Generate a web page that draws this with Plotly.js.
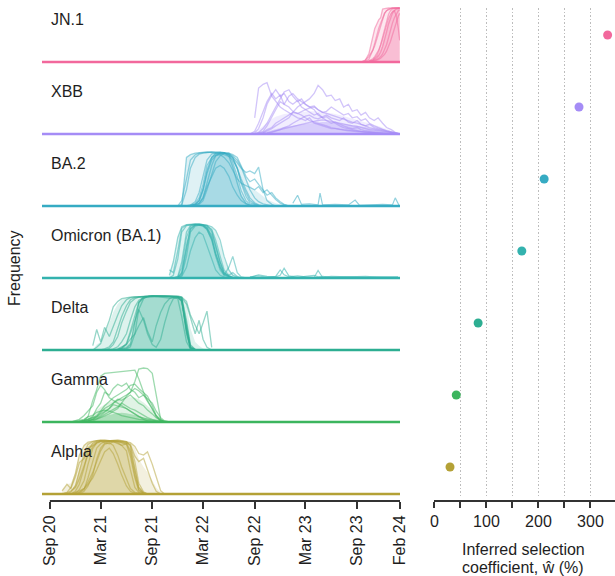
<!DOCTYPE html>
<html><head><meta charset="utf-8">
<script src="https://cdn.plot.ly/plotly-3.0.1.min.js"></script>
<style>html,body{margin:0;padding:0;background:#fff}#chart{width:615px;height:576px}</style>
</head><body><div id="chart"></div>
<script>
// ---------------- DATA ----------------
const variants = ['JN.1','XBB','BA.2','Omicron (BA.1)','Delta','Gamma','Alpha'];
const colors = ['#F2689C','#A58CF6','#36ABC3','#33B2AE','#2DAE92','#3CB55E','#B4A136'];
const selection = [333, 278, 211, 168, 84, 42, 30];
const fullSpan = ['2020-08-04','2024-02-01'];
const tickDates = ['2020-09-01','2021-03-01','2021-09-01','2022-03-01','2022-09-01','2023-03-01','2023-09-01','2024-02-01'];
const tickLabels = ['Sep 20','Mar 21','Sep 21','Mar 22','Sep 22','Mar 23','Sep 23','Feb 24'];
const selTicks = [0,50,100,150,200,250,300];
const selTickLabels = ['0','','100','','200','','300'];

// JN.1
const jn1Dates = ['2023-09-15','2023-09-29','2023-10-13','2023-10-27','2023-11-03','2023-11-10','2023-11-17','2023-11-24','2023-12-01','2023-12-08','2023-12-15','2023-12-22','2023-12-29','2024-01-05','2024-01-12','2024-01-19','2024-01-26','2024-01-31'];
const jn1Lines = [
 [0,0.02,0.15,0.5,0.62,0.7,0.78,0.82,0.98,0.99,1,1,1,1,1,1,1,1],
 [0,0.01,0.05,0.2,0.3,0.42,0.55,0.68,0.8,0.9,0.95,0.98,0.99,1,1,1,1,1],
 [0,0,0.02,0.06,0.1,0.15,0.22,0.32,0.45,0.6,0.75,0.88,0.95,0.98,0.99,1,1,1],
 [0,0,0.01,0.03,0.05,0.08,0.12,0.18,0.28,0.4,0.55,0.7,0.82,0.9,0.95,0.98,0.99,1],
 [0,0,0,0.02,0.03,0.05,0.07,0.1,0.15,0.22,0.32,0.45,0.6,0.72,0.82,0.9,0.95,0.97],
 [0,0,0.01,0.04,0.08,0.12,0.2,0.3,0.42,0.55,0.68,0.8,0.88,0.93,0.95,0.85,0.62,0.4],
 [0,0,0,0.01,0.02,0.03,0.05,0.07,0.1,0.14,0.2,0.28,0.38,0.5,0.62,0.75,0.85,0.9],
 [0,0.03,0.1,0.22,0.35,0.5,0.62,0.72,0.82,0.9,0.95,0.97,0.99,1,1,1,1,1]
];
const jn1Core = [0,0,0.01,0.04,0.07,0.11,0.17,0.25,0.37,0.5,0.65,0.8,0.9,0.96,0.98,0.99,1,1];
const jn1Outer = [0,0.03,0.15,0.5,0.62,0.7,0.78,0.82,0.98,0.99,1,1,1,1,1,1,1,1];

// XBB
const xbbDates = ['2022-08-15','2022-09-01','2022-09-15','2022-10-01','2022-10-15','2022-11-01','2022-11-15','2022-12-01','2022-12-15','2023-01-01','2023-01-15','2023-02-01','2023-02-15','2023-03-01','2023-03-15','2023-04-01','2023-04-15','2023-05-01','2023-05-15','2023-06-01','2023-06-15','2023-07-01','2023-07-15','2023-08-01','2023-08-15','2023-09-01','2023-09-15','2023-10-01','2023-10-15','2023-11-01','2023-11-15','2023-12-01','2023-12-15','2024-01-01','2024-01-15','2024-02-01'];
const xbbLines = [
 [null,0.3,0.85,0.92,0.95,0.7,0.6,0.5,0.45,0.4,0.35,0.3,0.28,0.25,0.3,0.2,0.18,0.15,0.12,0.1,0.1,0.08,0.07,0.06,0.05,0.05,0.04,0.03,0.03,0.02,0.02,0.01,0.01,0.01,0,0],
 [0,0.02,0.1,0.3,0.55,0.72,0.82,0.7,0.75,0.6,0.55,0.62,0.5,0.45,0.4,0.35,0.38,0.3,0.25,0.2,0.22,0.18,0.15,0.12,0.1,0.12,0.08,0.06,0.05,0.04,0.03,0.02,0.01,0.01,0,0],
 [0,0,0.03,0.1,0.2,0.35,0.5,0.65,0.78,0.82,0.7,0.6,0.65,0.55,0.5,0.45,0.35,0.3,0.32,0.25,0.2,0.15,0.12,0.1,0.08,0.06,0.05,0.04,0.03,0.02,0.02,0.01,0,0,0,0],
 [0,0,0,0.02,0.05,0.1,0.15,0.2,0.25,0.3,0.4,0.5,0.55,0.6,0.65,0.75,0.9,0.82,0.7,0.72,0.62,0.65,0.5,0.55,0.42,0.45,0.35,0.4,0.3,0.25,0.3,0.2,0.12,0.08,0.03,0],
 [0,0,0.02,0.05,0.15,0.3,0.45,0.6,0.55,0.7,0.75,0.65,0.6,0.55,0.5,0.52,0.45,0.4,0.42,0.5,0.45,0.4,0.35,0.38,0.3,0.32,0.25,0.28,0.2,0.15,0.12,0.1,0.06,0.04,0.02,0],
 [0,0,0.01,0.03,0.08,0.12,0.2,0.25,0.3,0.35,0.4,0.38,0.42,0.45,0.48,0.5,0.45,0.4,0.38,0.35,0.32,0.3,0.28,0.25,0.22,0.2,0.18,0.15,0.12,0.1,0.08,0.06,0.04,0.02,0.01,0],
 [0,0,0,0.01,0.02,0.04,0.06,0.08,0.1,0.12,0.14,0.16,0.18,0.2,0.22,0.24,0.25,0.26,0.25,0.24,0.22,0.2,0.18,0.17,0.15,0.14,0.12,0.1,0.08,0.07,0.06,0.05,0.03,0.02,0.01,0],
 [0,0,0,0,0.01,0.03,0.05,0.08,0.12,0.15,0.2,0.25,0.3,0.33,0.35,0.3,0.28,0.32,0.35,0.3,0.28,0.25,0.3,0.22,0.2,0.25,0.18,0.15,0.18,0.12,0.1,0.08,0.05,0.03,0.02,0],
 [0,0.05,0.2,0.4,0.6,0.75,0.65,0.72,0.55,0.5,0.42,0.38,0.35,0.3,0.25,0.22,0.2,0.18,0.15,0.12,0.1,0.09,0.08,0.07,0.06,0.05,0.04,0.03,0.02,0.02,0.01,0.01,0,0,0,0]
];
const xbbCore = [0,0,0.01,0.03,0.05,0.07,0.09,0.11,0.13,0.14,0.16,0.17,0.18,0.19,0.2,0.21,0.21,0.22,0.22,0.22,0.21,0.2,0.19,0.18,0.17,0.16,0.14,0.13,0.11,0.1,0.08,0.07,0.05,0.03,0.02,0];
const xbbOuter = [0,0.02,0.08,0.15,0.22,0.28,0.32,0.35,0.37,0.38,0.4,0.4,0.41,0.42,0.42,0.42,0.42,0.41,0.4,0.39,0.37,0.35,0.33,0.31,0.29,0.27,0.25,0.22,0.2,0.17,0.15,0.12,0.09,0.06,0.03,0];

// BA.2
const ba2Dates = ['2021-12-01','2021-12-15','2022-01-01','2022-01-15','2022-02-01','2022-02-15','2022-03-01','2022-03-15','2022-04-01','2022-04-15','2022-05-01','2022-05-15','2022-06-01','2022-06-15','2022-07-01','2022-07-15','2022-08-01','2022-08-15','2022-09-01','2022-09-15','2022-10-01','2022-10-15','2022-11-01','2022-11-15','2022-12-01','2022-12-15','2023-01-01'];
const ba2Lines = [
 [0,0,0.9,0.95,0.98,0.99,1,1,0.99,0.98,0.97,0.95,0.92,0.85,0.7,0.45,0.25,0.1,0.04,0.01,0,0,0,0,0,0,0],
 [0,0.02,0.3,0.7,0.9,0.96,0.98,0.99,1,0.99,0.99,0.98,0.95,0.88,0.7,0.5,0.3,0.15,0.06,0.02,0,0,0,0,0,0,0],
 [0,0,0,0.02,0.08,0.25,0.55,0.85,0.96,0.99,1,0.99,0.95,0.8,0.55,0.28,0.1,0.03,0.01,0,0,0,0,0,0,0,0],
 [0,0,0,0.01,0.03,0.1,0.3,0.65,0.9,0.98,0.99,0.99,0.92,0.72,0.42,0.18,0.05,0.01,0,0,0,0,0,0,0,0,0],
 [0,0,0,0,0.02,0.05,0.15,0.4,0.75,0.93,0.98,0.99,0.98,0.9,0.7,0.42,0.18,0.06,0.02,0,0,0,0,0,0,0,0],
 [0,0,0,0.01,0.05,0.15,0.4,0.75,0.9,0.95,0.97,0.98,0.95,0.9,0.8,0.7,0.62,0.65,0.6,0.72,0.3,0.1,0.03,0,0,0,0],
 [0,0,0,0,0.03,0.1,0.3,0.6,0.85,0.93,0.95,0.9,0.8,0.65,0.5,0.42,0.38,0.35,0.3,0.36,0.25,0.3,0.2,0.12,0.05,0.02,0],
 [0,0,0,0,0.01,0.05,0.15,0.35,0.55,0.7,0.75,0.7,0.55,0.35,0.2,0.1,0.04,0.01,0,0,0,0,0,0,0,0,0],
 [0,0.1,0.5,0.85,0.95,0.98,0.99,1,1,1,0.99,0.98,0.97,0.93,0.85,0.72,0.5,0.3,0.15,0.08,0.04,0.02,0,0,0,0,0],
 [0,0,0,0,0,0.03,0.1,0.3,0.6,0.82,0.93,0.97,0.98,0.95,0.9,0.75,0.55,0.45,0.5,0.4,0.3,0.2,0.25,0.15,0.08,0.03,0]
];
const ba2Core = [0,0,0,0.01,0.04,0.12,0.35,0.7,0.92,0.98,0.99,0.99,0.93,0.78,0.5,0.22,0.07,0.02,0,0,0,0,0,0,0,0,0];
const ba2Outer = [0,0.05,0.9,0.95,0.98,0.99,1,1,1,1,1,0.99,0.97,0.93,0.85,0.7,0.5,0.38,0.3,0.25,0.18,0.12,0.08,0.05,0.03,0.01,0];
const ba2TailDates = ['2023-01-15','2023-02-01','2023-02-15','2023-03-15','2023-04-15','2023-04-22','2023-05-01','2023-06-15','2023-08-01','2023-08-25','2023-09-10','2023-10-15','2023-12-01','2024-01-05','2024-01-15','2024-01-28'];
const ba2Tail = [[0.05,0.2,0.03,0.04,0.02,0.24,0.02,0.03,0.02,0.11,0.01,0.02,0.03,0.02,0.15,0.02]];

// Omicron (BA.1)
const omiDates = ['2021-11-01','2021-11-15','2021-12-01','2021-12-15','2022-01-01','2022-01-15','2022-02-01','2022-02-15','2022-03-01','2022-03-15','2022-04-01','2022-04-15','2022-05-01','2022-05-15','2022-06-01','2022-06-15','2022-07-01','2022-07-15','2022-08-01'];
const omiLines = [
 [0.05,0.3,0.75,0.95,0.99,1,1,0.99,0.98,0.95,0.85,0.6,0.3,0.1,0.03,0.01,0,0,0],
 [0,0.05,0.35,0.85,0.97,0.99,1,1,0.99,0.97,0.9,0.7,0.4,0.15,0.05,0.01,0,0,0],
 [0,0,0.02,0.2,0.75,0.95,0.99,1,0.99,0.97,0.88,0.6,0.3,0.1,0.03,0.01,0,0,0],
 [0,0,0.01,0.08,0.55,0.9,0.98,0.99,0.98,0.93,0.75,0.45,0.2,0.07,0.02,0,0,0,0],
 [0,0,0.01,0.1,0.6,0.92,0.98,0.99,0.99,0.98,0.95,0.88,0.7,0.4,0.15,0.05,0.01,0,0],
 [0,0,0,0.05,0.4,0.85,0.96,0.98,0.97,0.9,0.7,0.4,0.15,0.05,0.2,0.4,0.1,0.02,0],
 [0,0,0,0.03,0.2,0.5,0.75,0.85,0.8,0.6,0.35,0.15,0.05,0.02,0,0,0,0,0],
 [0.15,0.1,0.5,0.92,0.98,0.99,0.99,0.98,0.96,0.9,0.72,0.45,0.2,0.06,0.02,0,0,0,0],
 [0,0,0.03,0.3,0.85,0.97,0.99,0.99,0.97,0.92,0.8,0.55,0.25,0.08,0.05,0.1,0.03,0,0]
];
const omiCore = [0,0,0.01,0.15,0.65,0.93,0.98,0.99,0.98,0.94,0.8,0.5,0.22,0.07,0.02,0,0,0,0];
const omiOuter = [0.05,0.3,0.75,0.95,0.99,1,1,1,0.99,0.98,0.95,0.85,0.65,0.35,0.15,0.08,0.03,0.01,0];
const omiTailDates = ['2022-08-15','2022-09-15','2022-10-15','2022-11-15','2022-12-01','2022-12-15','2023-01-01','2023-02-01','2023-03-01','2023-04-01','2023-04-15','2023-05-01','2023-06-01','2023-08-01','2023-10-01','2023-12-01','2024-01-25'];
const omiTail = [
 [0.02,0.04,0.01,0.03,0.15,0.06,0.02,0.04,0.02,0.01,0.14,0.01,0.03,0.02,0.01,0.02,0.01],
 [0.01,0.06,0.03,0.02,0.05,0.18,0.04,0.01,0.03,0.05,0.02,0.03,0.01,0.02,0.03,0.01,0.02]
];

// Delta
const deltaDates = ['2021-02-01','2021-02-15','2021-03-01','2021-03-15','2021-04-01','2021-04-15','2021-05-01','2021-05-15','2021-06-01','2021-06-15','2021-07-01','2021-07-15','2021-08-01','2021-08-15','2021-09-01','2021-09-15','2021-10-01','2021-10-15','2021-11-01','2021-11-15','2021-12-01','2021-12-15','2022-01-01','2022-01-15','2022-02-01','2022-02-15','2022-03-01','2022-03-15','2022-04-01'];
const deltaLines = [
 [0,0.05,0.12,0.3,0.55,0.8,0.9,0.95,0.97,0.98,0.99,0.99,1,1,1,1,1,1,1,0.99,0.98,0.9,0.35,0.05,0.01,0,0,0,0],
 [0.08,0.38,0.15,0.42,0.25,0.45,0.65,0.82,0.93,0.97,0.98,0.99,0.99,1,1,0.99,0.99,0.98,0.96,0.97,0.95,0.62,0.15,0.02,0,0,0,0,0],
 [0,0,0,0,0.03,0.1,0.25,0.5,0.72,0.88,0.95,0.98,0.99,1,1,1,1,1,1,1,0.99,0.97,0.5,0.08,0.01,0,0,0,0],
 [0,0,0,0,0,0,0,0.02,0.04,0.1,0.5,0.88,0.99,1,1,1,1,1,1,1,0.99,0.95,0.3,0.03,0,0,0,0,0],
 [0,0,0,0,0,0,0,0,0.02,0.06,0.3,0.75,0.95,0.99,1,1,1,1,1,1,1,0.98,0.55,0.1,0.01,0,0,0,0],
 [0,0,0,0,0,0,0.02,0.05,0.1,0.2,0.3,0.45,0.6,0.35,0.15,0.45,0.7,0.85,0.95,0.98,0.97,0.9,0.4,0.05,0,0,0,0,0],
 [0,0,0,0,0,0,0.01,0.04,0.12,0.35,0.65,0.88,0.96,0.99,1,1,1,0.99,1,0.99,0.99,0.98,0.9,0.65,0.45,0.3,0.5,0.72,0.05],
 [0,0,0,0.02,0.06,0.15,0.38,0.62,0.82,0.93,0.97,0.98,0.99,0.99,1,1,0.99,1,1,0.99,0.99,0.93,0.4,0.05,0,0,0,0,0],
 [0,0,0,0,0,0.02,0.06,0.15,0.3,0.55,0.8,0.92,0.97,0.98,0.99,1,1,1,1,0.99,0.98,0.97,0.85,0.6,0.3,0.55,0.2,0.05,0],
 [0,0,0,0,0,0,0,0.03,0.1,0.3,0.55,0.75,0.55,0.3,0.1,0.05,0.2,0.5,0.8,0.95,0.97,0.92,0.35,0.03,0,0,0,0,0]
];
const deltaCore = [0,0,0,0,0,0.01,0.02,0.04,0.07,0.15,0.55,0.9,0.99,1,1,1,1,1,1,1,0.99,0.96,0.45,0.06,0.01,0,0,0,0];
const deltaOuter = [0,0.1,0.15,0.3,0.5,0.7,0.85,0.93,0.97,0.98,0.99,0.99,1,1,1,1,1,1,1,1,0.99,0.98,0.85,0.4,0.15,0.08,0.03,0.01,0];

// Gamma
const gammaDates = ['2020-11-15','2020-12-01','2020-12-15','2021-01-01','2021-01-15','2021-02-01','2021-02-15','2021-03-01','2021-03-15','2021-04-01','2021-04-15','2021-05-01','2021-05-15','2021-06-01','2021-06-15','2021-07-01','2021-07-15','2021-08-01','2021-08-15','2021-09-01','2021-09-15','2021-10-01','2021-10-15','2021-11-01'];
const gammaLines = [
 [0,0,0,0,0.02,0.05,0.1,0.18,0.25,0.3,0.35,0.4,0.45,0.5,0.55,0.75,0.98,1,0.99,0.9,0.5,0.05,0,0],
 [0,0,0.01,0.03,0.1,0.4,0.6,0.85,0.9,0.91,0.92,0.93,0.94,0.95,0.95,0.96,0.8,0.55,0.4,0.25,0.1,0.02,0,0],
 [0,0,0,0.03,0.05,0.1,0.25,0.35,0.55,0.5,0.62,0.7,0.66,0.72,0.6,0.55,0.45,0.5,0.38,0.25,0.12,0.05,0,0],
 [0,0.02,0.05,0.12,0.2,0.3,0.55,0.68,0.6,0.45,0.4,0.35,0.3,0.25,0.2,0.15,0.1,0.05,0.02,0,0,0,0,0],
 [0,0,0,0.02,0.04,0.08,0.12,0.2,0.3,0.38,0.45,0.5,0.55,0.6,0.68,0.7,0.62,0.55,0.48,0.3,0.12,0.02,0,0],
 [0,0,0.01,0.03,0.05,0.08,0.1,0.15,0.2,0.25,0.32,0.3,0.28,0.25,0.2,0.15,0.1,0.07,0.05,0.03,0.02,0.01,0,0],
 [0,0,0,0,0.02,0.04,0.06,0.1,0.14,0.18,0.22,0.28,0.35,0.3,0.25,0.22,0.18,0.12,0.08,0.05,0.03,0.01,0,0],
 [0,0,0,0.01,0.02,0.05,0.08,0.12,0.18,0.25,0.35,0.42,0.4,0.45,0.5,0.42,0.35,0.3,0.22,0.15,0.08,0.03,0.01,0],
 [0,0,0,0,0,0.02,0.05,0.08,0.12,0.15,0.2,0.25,0.35,0.48,0.55,0.62,0.58,0.5,0.42,0.35,0.2,0.08,0.02,0],
 [0,0.01,0.03,0.05,0.1,0.12,0.18,0.2,0.22,0.2,0.18,0.15,0.12,0.1,0.08,0.06,0.05,0.04,0.03,0.02,0.01,0,0,0]
];
const gammaCore = [0,0,0.01,0.02,0.03,0.05,0.07,0.09,0.11,0.13,0.15,0.16,0.17,0.16,0.15,0.13,0.11,0.08,0.06,0.04,0.02,0.01,0,0];
const gammaOuter = [0,0.01,0.03,0.06,0.1,0.15,0.22,0.28,0.32,0.36,0.4,0.43,0.45,0.46,0.46,0.45,0.42,0.36,0.3,0.22,0.12,0.04,0.01,0];

// Alpha
const alphaDates = ['2020-10-15','2020-11-01','2020-11-15','2020-12-01','2020-12-15','2021-01-01','2021-01-15','2021-02-01','2021-02-15','2021-03-01','2021-03-15','2021-04-01','2021-04-15','2021-05-01','2021-05-15','2021-06-01','2021-06-15','2021-07-01','2021-07-15','2021-08-01','2021-08-15','2021-09-01','2021-09-15','2021-10-01','2021-10-15'];
const alphaLines = [
 [0,0.03,0.12,0.38,0.72,0.9,0.96,0.98,0.99,0.99,0.98,0.97,0.96,0.95,0.9,0.8,0.45,0.12,0.03,0,0,0,0,0,0],
 [0,0,0.04,0.15,0.42,0.75,0.92,0.97,0.99,1,0.99,0.99,0.98,0.97,0.95,0.92,0.7,0.3,0.06,0.01,0,0,0,0,0],
 [0,0,0,0.05,0.18,0.48,0.8,0.94,0.98,0.99,1,0.99,0.99,0.98,0.97,0.95,0.82,0.45,0.12,0.02,0,0,0,0,0],
 [0,0,0,0.02,0.08,0.25,0.55,0.84,0.95,0.98,0.99,0.99,0.99,0.98,0.98,0.97,0.9,0.6,0.2,0.04,0,0,0,0,0],
 [0,0,0,0,0.03,0.1,0.22,0.4,0.6,0.8,0.92,0.95,0.9,0.72,0.5,0.28,0.1,0.03,0.01,0,0,0,0,0,0],
 [0.06,0.18,0.1,0.32,0.58,0.66,0.85,0.9,0.96,0.98,0.95,0.93,0.97,0.94,0.9,0.93,0.78,0.35,0.08,0.01,0,0,0,0,0],
 [0,0,0,0,0.02,0.08,0.3,0.6,0.85,0.93,0.97,0.98,0.99,0.99,0.98,0.97,0.95,0.88,0.75,0.72,0.78,0.55,0.3,0.06,0],
 [0,0,0,0,0,0.05,0.15,0.35,0.65,0.85,0.94,0.97,0.98,0.97,0.96,0.94,0.92,0.7,0.6,0.66,0.45,0.2,0.05,0,0],
 [0,0,0,0.02,0.05,0.1,0.18,0.3,0.45,0.62,0.78,0.85,0.75,0.55,0.35,0.15,0.05,0.01,0,0,0,0,0,0,0],
 [0,0.02,0.06,0.12,0.28,0.52,0.72,0.88,0.94,0.97,0.98,0.99,1,1,0.99,0.97,0.88,0.5,0.12,0.02,0,0,0,0,0]
];
const alphaCore = [0,0.01,0.05,0.18,0.45,0.72,0.88,0.95,0.98,0.99,0.99,0.99,0.99,0.98,0.97,0.95,0.8,0.42,0.1,0.02,0,0,0,0,0];
const alphaOuter = [0.06,0.18,0.2,0.4,0.72,0.9,0.96,0.98,0.99,1,1,1,1,1,0.99,0.97,0.95,0.85,0.65,0.5,0.4,0.25,0.12,0.03,0];

// ---------------- BUILD ----------------
const panels = [
 {dates: jn1Dates, lines: jn1Lines, core: jn1Core, outer: jn1Outer},
 {dates: xbbDates, lines: xbbLines, core: xbbCore, outer: xbbOuter},
 {dates: ba2Dates, lines: ba2Lines, core: ba2Core, outer: ba2Outer, tailDates: ba2TailDates, tail: ba2Tail},
 {dates: omiDates, lines: omiLines, core: omiCore, outer: omiOuter, tailDates: omiTailDates, tail: omiTail},
 {dates: deltaDates, lines: deltaLines, core: deltaCore, outer: deltaOuter},
 {dates: gammaDates, lines: gammaLines, core: gammaCore, outer: gammaOuter},
 {dates: alphaDates, lines: alphaLines, core: alphaCore, outer: alphaOuter}
];

function rgba(hex, a) {
  const n = parseInt(hex.slice(1), 16);
  return 'rgba(' + ((n >> 16) & 255) + ',' + ((n >> 8) & 255) + ',' + (n & 255) + ',' + a + ')';
}

const W = 615, plotBottom = 501;
const fy = py => (plotBottom - py) / plotBottom;
const fx = px => px / W;
const txt = {size: 16, color: '#1e1e1e'};

const traces = [];
const layout = {
  width: 615, height: 576,
  margin: {l: 0, r: 0, t: 0, b: 75},
  paper_bgcolor: '#ffffff', plot_bgcolor: 'rgba(0,0,0,0)',
  showlegend: false,
  font: {family: 'Liberation Sans, Arial, sans-serif', size: 16, color: '#1e1e1e'},
  xaxis: {
    domain: [fx(42), fx(400)], range: fullSpan, type: 'date',
    anchor: 'free', position: 0, showline: false, showgrid: false, zeroline: false,
    ticks: 'outside', ticklen: 7, tickwidth: 2, tickcolor: '#333333',
    tickmode: 'array', tickvals: tickDates, ticktext: tickLabels, tickangle: -90,
    tickfont: txt, fixedrange: true
  },
  xaxis2: {
    domain: [fx(434), 1], range: [-0.8, 347.2],
    anchor: 'free', position: 0, showline: true, linewidth: 2, linecolor: '#333333',
    ticks: 'outside', ticklen: 6, tickwidth: 2, tickcolor: '#333333',
    tickmode: 'array', tickvals: selTicks, ticktext: selTickLabels,
    showgrid: true, gridcolor: '#bdbdbd', griddash: '1.5px,2px', gridwidth: 1,
    zeroline: false, tickfont: txt, fixedrange: true
  },
  yaxis8: {
    domain: [fy(497), fy(8)], range: [-0.4167, 6.375], anchor: 'x2', visible: false,
    type: 'category', categoryorder: 'array', categoryarray: variants.slice().reverse(), fixedrange: true
  },
  shapes: [{
    type: 'line', xref: 'x', yref: 'paper', x0: tickDates[0], x1: tickDates[tickDates.length - 1],
    y0: 0, y1: 0, line: {color: '#333333', width: 2}
  }],
  annotations: []
};

panels.forEach((p, i) => {
  const ya = i === 0 ? 'y' : 'y' + (i + 1);
  const base = 62 + 72 * i;
  layout[i === 0 ? 'yaxis' : 'yaxis' + (i + 1)] = {
    domain: [fy(base + 2.16), fy(base - 56.16)], range: [-0.04, 1.04],
    anchor: 'x', visible: false, fixedrange: true
  };
  const c = colors[i];
  traces.push({x: p.dates, y: p.outer, xaxis: 'x', yaxis: ya, mode: 'lines', fill: 'tozeroy',
    fillcolor: rgba(c, 0.16), line: {width: 0, color: rgba(c, 0)}, hoverinfo: 'skip', showlegend: false});
  traces.push({x: p.dates, y: p.core, xaxis: 'x', yaxis: ya, mode: 'lines', fill: 'tozeroy',
    fillcolor: rgba(c, 0.32), line: {width: 0, color: rgba(c, 0)}, hoverinfo: 'skip', showlegend: false});
  p.lines.forEach(l => traces.push({x: p.dates, y: l, xaxis: 'x', yaxis: ya, mode: 'lines',
    line: {color: c, width: 1.3}, opacity: 0.5, hoverinfo: 'skip', showlegend: false}));
  if (p.tail) p.tail.forEach(l => traces.push({x: p.tailDates, y: l, xaxis: 'x', yaxis: ya, mode: 'lines',
    line: {color: c, width: 1.2}, opacity: 0.55, hoverinfo: 'skip', showlegend: false}));
  traces.push({x: fullSpan, y: [0, 0], xaxis: 'x', yaxis: ya, mode: 'lines',
    line: {color: c, width: 2.5}, hoverinfo: 'skip', showlegend: false});
  layout.annotations.push({text: variants[i], xref: 'paper', yref: 'paper', x: fx(49), y: fy(19.5 + 72 * i),
    xanchor: 'left', yanchor: 'middle', showarrow: false, font: txt});
});

traces.push({x: selection, y: variants, xaxis: 'x2', yaxis: 'y8', mode: 'markers',
  marker: {color: colors, size: 9}, hoverinfo: 'skip', showlegend: false});

layout.annotations.push({text: 'Frequency', xref: 'paper', yref: 'paper', x: fx(15), y: fy(268),
  xanchor: 'center', yanchor: 'middle', textangle: -90, showarrow: false, font: txt});
layout.annotations.push({text: 'Inferred selection', xref: 'paper', yref: 'paper', x: fx(523), y: fy(549),
  xanchor: 'center', yanchor: 'middle', showarrow: false, font: txt});
layout.annotations.push({text: 'coefficient, ŵ (%)', xref: 'paper', yref: 'paper', x: fx(523), y: fy(567),
  xanchor: 'center', yanchor: 'middle', showarrow: false, font: txt});

Plotly.newPlot('chart', traces, layout, {staticPlot: true, displayModeBar: false});
</script></body></html>
